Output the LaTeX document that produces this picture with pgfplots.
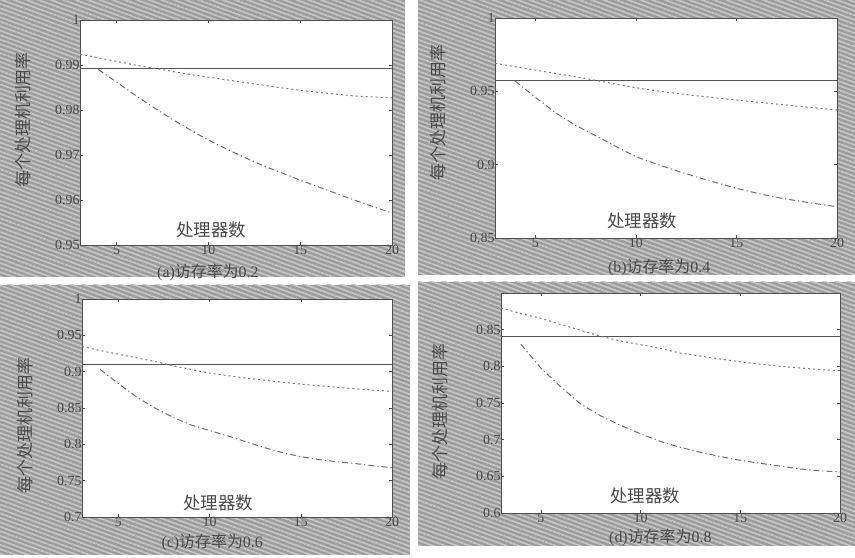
\documentclass[border=0pt]{standalone}
\usepackage{fontspec}
\setmainfont{Liberation Serif}
\newfontfamily\cjk{Noto Sans CJK SC}
\usepackage{pgfplots}
\pgfplotsset{compat=1.18}
\usetikzlibrary{patterns.meta}
\definecolor{bgdark}{HTML}{9C9C9C}
\definecolor{bglight}{HTML}{C6C6C6}
\definecolor{axc}{HTML}{505050}
\definecolor{txc}{HTML}{4A4A4A}
\definecolor{lsolid}{HTML}{555555}
\definecolor{ldot}{HTML}{7A7A7A}
\definecolor{ldd}{HTML}{707070}
\pgfplotsset{
  panel/.style={
    scale only axis, anchor=south west, clip mode=individual,
    xmin=3, xmax=20, xtick={5,10,15,20},
    tick align=inside, major tick length=3bp,
    axis line style={axc, line width=0.6pt},
    tick style={axc, line width=0.5pt},
    /pgf/number format/assume math mode=true,
    yticklabel style={/pgf/number format/fixed, /pgf/number format/precision=2, xshift=3bp},
    ticklabel style={font=\fontsize{14}{14}\selectfont, text=txc},
    xticklabel style={yshift=3bp},
    axis background/.style={fill=white},
    ylabel={每个处理机利用率},
  },
  ylab/.style 2 args={ylabel style={font=\cjk\fontsize{17}{18}\selectfont, text=txc, at={(axis description cs:#1,#2)}, anchor=center, rotate=0}},
  sol/.style={lsolid, line width=0.8pt, no marks},
  dotl/.style={ldot, line width=1pt, no marks, dash pattern=on 2pt off 3pt},
  ddl/.style={ldd, line width=1pt, no marks, dash pattern=on 6pt off 3pt on 1.2pt off 3pt},
}
\tikzset{subcap/.style={font=\fontsize{16}{17}\selectfont, text=txc}}
\newcommand{\bgpanel}[4]{%
  \fill[bgdark] (#1bp,#2bp) rectangle (#3bp,#4bp);
  \fill[pattern={Lines[angle=-20,distance=4.2bp,line width=1.7bp]}, pattern color=bglight] (#1bp,#2bp) rectangle (#3bp,#4bp);
}
\begin{document}
\begin{tikzpicture}
\fill[white] (0bp,0bp) rectangle (855bp,558bp);
\bgpanel{0}{281}{405}{558}
\bgpanel{418}{283}{855}{558}
\bgpanel{0}{3}{410}{273}
\bgpanel{418}{12}{855}{276}

% (a)
\begin{axis}[panel, ylab={-0.183}{0.556}, at={(80bp,313bp)}, width=312bp, height=225bp,
  ymin=0.95, ymax=1, ytick={0.95,0.96,0.97,0.98,0.99,1}]
\addplot[sol] coordinates {(3,0.9893) (20,0.9893)};
\addplot[dotl] coordinates {(3,0.9924) (4,0.9916) (5,0.9908) (6,0.9900) (7,0.9893) (8,0.9886) (9,0.9879) (10,0.9873) (11,0.9867) (12,0.9861) (13,0.9855) (14,0.9849) (15,0.9844) (16,0.9839) (17,0.9835) (18,0.9831) (19,0.9829) (20,0.9827)};
\addplot[ddl] coordinates {(4,0.9890) (5,0.9862) (6,0.9833) (7,0.9806) (8,0.9780) (9,0.9756) (10,0.9733) (11,0.9713) (12,0.9694) (13,0.9676) (14,0.9660) (15,0.9644) (16,0.9629) (17,0.9614) (18,0.9599) (19,0.9585) (20,0.9571)};
\node[font=\cjk\fontsize{17.5}{18}\selectfont, text=txc] at (rel axis cs:0.42,0.067) {处理器数};
\node[subcap] at (rel axis cs:0.41,0) [yshift=-27bp] {(a){\cjk 访存率为}0.2};
\end{axis}

% (b)
\begin{axis}[panel, ylab={-0.167}{0.57}, at={(495bp,320bp)}, width=342bp, height=220bp,
  ymin=0.85, ymax=1, ytick={0.85,0.9,0.95,1}]
\addplot[sol] coordinates {(3,0.9577) (20,0.9577)};
\addplot[dotl] coordinates {(3,0.9691) (4,0.9668) (5,0.9645) (6,0.9622) (7,0.9600) (8,0.9575) (9,0.9549) (10,0.9525) (11,0.9504) (12,0.9486) (13,0.9470) (14,0.9455) (15,0.9441) (16,0.9427) (17,0.9413) (18,0.9399) (19,0.9386) (20,0.9373)};
\addplot[ddl] coordinates {(4,0.9570) (5,0.9460) (6,0.9355) (7,0.9268) (8,0.9198) (9,0.9125) (10,0.9055) (11,0.9005) (12,0.8960) (13,0.8917) (14,0.8877) (15,0.8839) (16,0.8806) (17,0.8777) (18,0.8754) (19,0.8733) (20,0.8713)};
\node[font=\cjk\fontsize{17.5}{18}\selectfont, text=txc] at (rel axis cs:0.43,0.08) {处理器数};
\node[subcap] at (rel axis cs:0.48,0) [yshift=-29bp] {(b){\cjk 访存率为}0.4};
\end{axis}

% (c)
\begin{axis}[panel, ylab={-0.184}{0.42}, at={(82bp,41bp)}, width=310bp, height=218bp,
  ymin=0.7, ymax=1, ytick={0.7,0.75,0.8,0.85,0.9,0.95,1}]
\addplot[sol] coordinates {(3,0.9095) (20,0.9095)};
\addplot[dotl] coordinates {(3,0.9346) (4,0.9290) (5,0.9240) (6,0.9190) (7,0.9140) (8,0.9080) (9,0.9030) (10,0.8980) (11,0.8945) (12,0.8912) (13,0.8882) (14,0.8855) (15,0.8829) (16,0.8806) (17,0.8785) (18,0.8764) (19,0.8746) (20,0.8729)};
\addplot[ddl] coordinates {(4,0.9030) (5,0.8835) (6,0.8650) (7,0.8500) (8,0.8370) (9,0.8265) (10,0.8190) (11,0.8115) (12,0.8035) (13,0.7955) (14,0.7885) (15,0.7830) (16,0.7790) (17,0.7760) (18,0.7735) (19,0.7705) (20,0.7677)};
\node[font=\cjk\fontsize{17.5}{18}\selectfont, text=txc] at (rel axis cs:0.44,0.064) {处理器数};
\node[subcap] at (rel axis cs:0.42,0) [yshift=-25bp] {(c){\cjk 访存率为}0.6};
\end{axis}

% (d)
\begin{axis}[panel, ylab={-0.18}{0.46}, at={(501bp,45bp)}, width=339bp, height=220bp,
  ymin=0.6, ymax=0.9, ytick={0.6,0.65,0.7,0.75,0.8,0.85}]
\addplot[sol] coordinates {(3,0.8409) (20,0.8409)};
\addplot[dotl] coordinates {(3,0.8795) (4,0.8720) (5,0.8655) (6,0.8570) (7,0.8490) (8,0.8410) (9,0.8345) (10,0.8295) (11,0.8245) (12,0.8180) (13,0.8140) (14,0.8100) (15,0.8062) (16,0.8030) (17,0.8000) (18,0.7978) (19,0.7955) (20,0.7941)};
\addplot[ddl] coordinates {(4,0.8300) (5,0.7975) (6,0.7720) (7,0.7485) (8,0.7325) (9,0.7195) (10,0.7080) (11,0.6975) (12,0.6895) (13,0.6828) (14,0.6770) (15,0.6718) (16,0.6678) (17,0.6640) (18,0.6600) (19,0.6575) (20,0.6560)};
\node[font=\cjk\fontsize{17.5}{18}\selectfont, text=txc] at (rel axis cs:0.425,0.077) {处理器数};
\node[subcap] at (rel axis cs:0.47,0) [yshift=-24bp] {(d){\cjk 访存率为}0.8};
\end{axis}
\end{tikzpicture}
\end{document}
